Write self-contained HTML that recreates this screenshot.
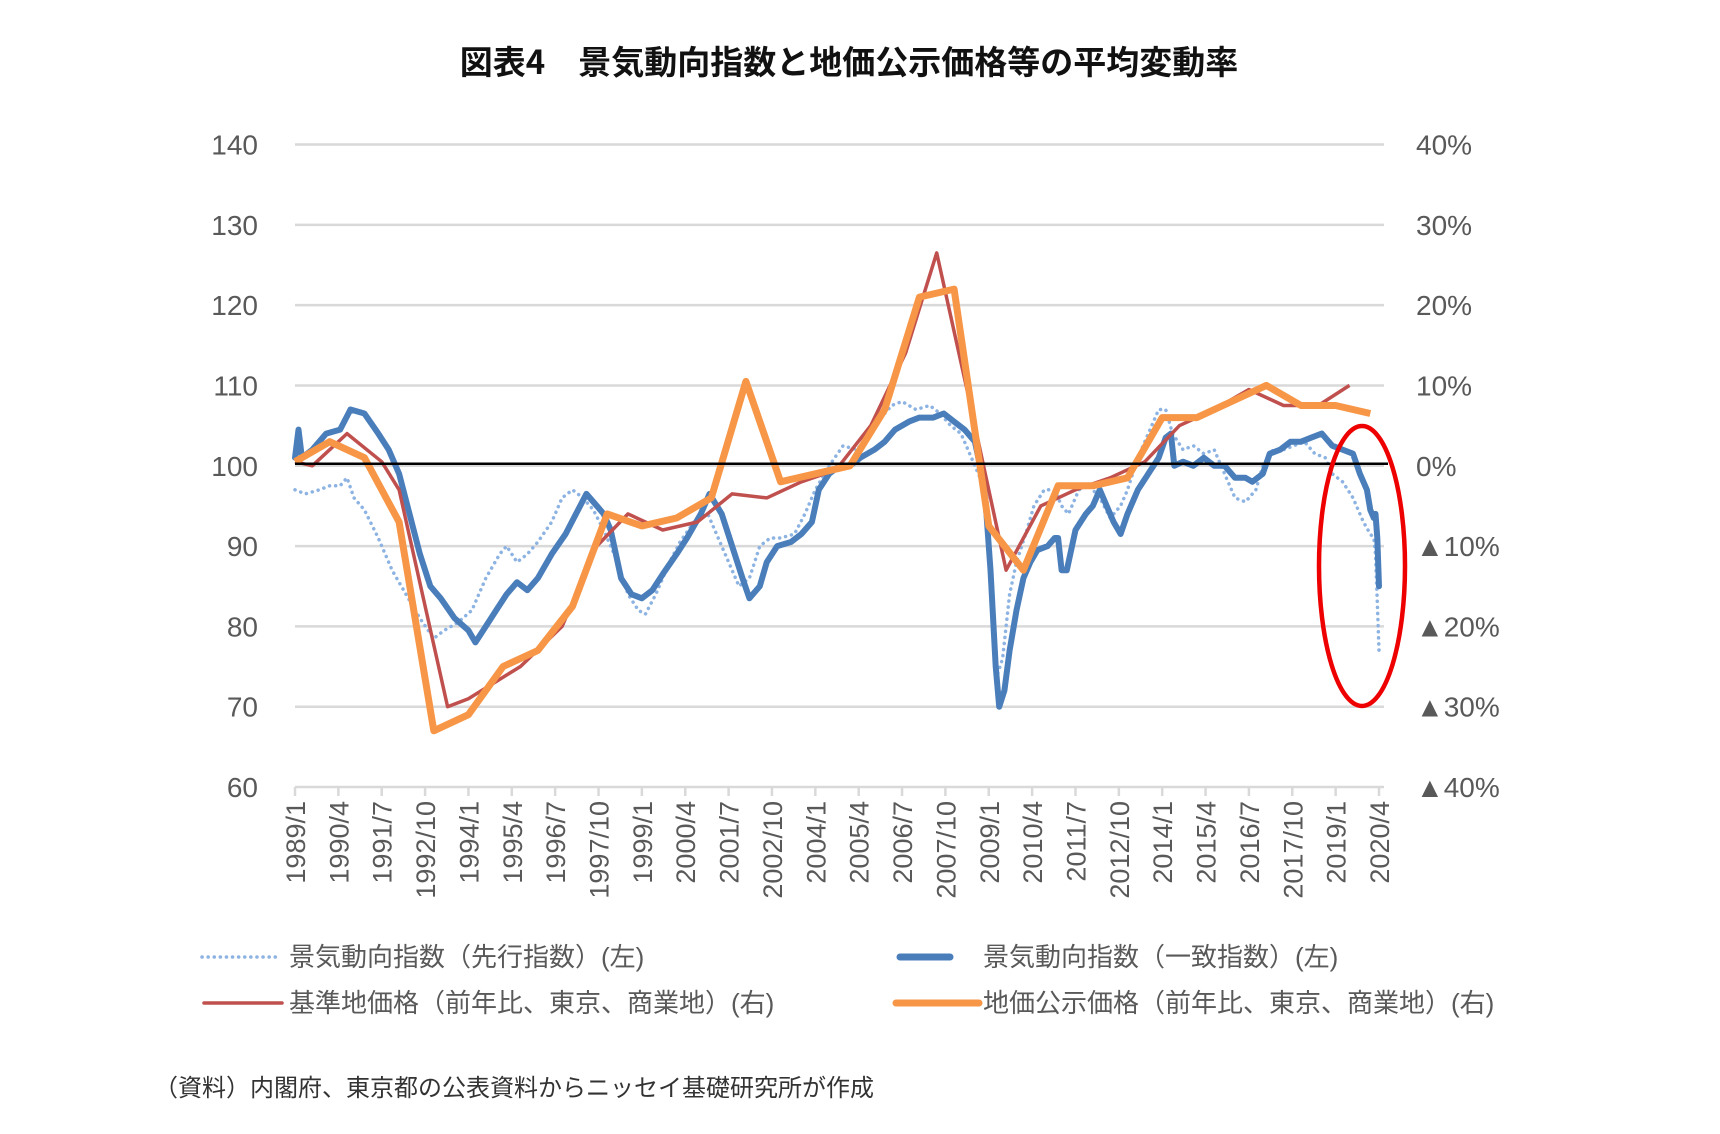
<!DOCTYPE html>
<html><head><meta charset="utf-8"><style>
html,body{margin:0;padding:0;background:#fff;}
body{width:1720px;height:1134px;overflow:hidden;position:relative;font-family:"Liberation Sans","Noto Sans CJK JP",sans-serif;}
.t{position:absolute;white-space:nowrap;}
</style></head><body>
<div class="t" style="left:0;width:1698px;text-align:center;top:36px;font-size:33px;font-weight:bold;color:#111;font-family:'Noto Sans CJK JP',sans-serif;">図表4　景気動向指数と地価公示価格等の平均変動率</div>
<svg id="chart" width="1720" height="1134" style="position:absolute;left:0;top:0"></svg>
<div class="t" style="left:154px;top:1068px;font-size:24px;color:#333;">（資料）内閣府、東京都の公表資料からニッセイ基礎研究所が作成</div>
<script>
const leftTicks=[60,70,80,90,100,110,120,130,140];
const rightTickLabels=['▲40%','▲30%','▲20%','▲10%','0%','10%','20%','30%','40%'];
const xTickLabels=['1989/1','1990/4','1991/7','1992/10','1994/1','1995/4','1996/7','1997/10','1999/1','2000/4','2001/7','2002/10','2004/1','2005/4','2006/7','2007/10','2009/1','2010/4','2011/7','2012/10','2014/1','2015/4','2016/7','2017/10','2019/1','2020/4'];
const coinT=[1989.0,1989.1,1989.2,1989.5,1989.9,1990.3,1990.6,1991.0,1991.4,1991.7,1992.0,1992.3,1992.6,1992.9,1993.2,1993.6,1994.0,1994.2,1994.5,1994.8,1995.1,1995.4,1995.7,1996.0,1996.4,1996.8,1997.1,1997.4,1997.7,1997.9,1998.1,1998.4,1998.7,1999.0,1999.3,1999.6,2000.0,2000.3,2000.7,2000.95,2001.3,2001.6,2001.9,2002.1,2002.4,2002.6,2002.9,2003.3,2003.6,2003.9,2004.1,2004.4,2004.7,2005.0,2005.3,2005.7,2006.0,2006.3,2006.7,2007.0,2007.4,2007.7,2008.0,2008.3,2008.6,2008.75,2008.9,2009.05,2009.2,2009.3,2009.45,2009.6,2009.8,2010.0,2010.2,2010.4,2010.7,2010.9,2011.0,2011.1,2011.25,2011.5,2011.8,2012.0,2012.2,2012.4,2012.6,2012.8,2013.0,2013.3,2013.6,2013.9,2014.1,2014.25,2014.35,2014.6,2014.9,2015.2,2015.5,2015.8,2016.1,2016.4,2016.6,2016.9,2017.1,2017.4,2017.7,2018.0,2018.3,2018.6,2018.9,2019.2,2019.5,2019.7,2019.9,2020.0,2020.1,2020.15,2020.2,2020.25];
const coinV=[101,104.5,101,102,104,104.5,107,106.5,104,102,99,94,89,85,83.5,81,79.5,78,80,82,84,85.5,84.5,86,89,91.5,94,96.5,95,94,92,86,84,83.5,84.5,86.5,89,91,94,96.5,94,90,86,83.5,85,88,90,90.5,91.5,93,97,99,100,100,101,102,103,104.5,105.5,106,106,106.5,105.5,104.5,103,100,96,87,75,70,72,77,82,86,88,89.5,90,91,91,87,87,92,94,95,97,95,93,91.5,94,97,99,101,103.5,104,100,100.5,100,101,100,100,98.5,98.5,98,99,101.5,102,103,103,103.5,104,102.5,102,101.5,99,97,94.5,93.5,94,91,85];
const leadT=[1989.0,1989.3,1989.7,1990.0,1990.3,1990.5,1990.7,1991.0,1991.4,1991.8,1992.2,1992.6,1993.0,1993.3,1993.7,1994.1,1994.5,1994.9,1995.1,1995.4,1995.7,1996.0,1996.4,1996.7,1997.0,1997.3,1997.6,1997.9,1998.3,1998.6,1998.9,1999.1,1999.4,1999.8,2000.1,2000.5,2000.9,2001.2,2001.5,2001.8,2002.1,2002.4,2002.7,2003.0,2003.4,2003.7,2004.0,2004.4,2004.8,2005.2,2005.6,2005.9,2006.2,2006.5,2006.9,2007.3,2007.6,2007.9,2008.2,2008.5,2008.8,2009.0,2009.1,2009.25,2009.4,2009.6,2009.8,2010.1,2010.3,2010.6,2010.9,2011.1,2011.3,2011.6,2011.9,2012.2,2012.5,2012.8,2013.0,2013.3,2013.6,2013.9,2014.1,2014.3,2014.6,2014.9,2015.2,2015.5,2015.8,2016.1,2016.4,2016.7,2016.9,2017.2,2017.5,2017.8,2018.1,2018.4,2018.7,2018.9,2019.2,2019.5,2019.8,2020.0,2020.1,2020.15,2020.2,2020.25];
const leadV=[97,96.5,97,97.5,97.5,98.5,96,94.5,91,87,84,81,78.5,79.5,80.5,82,86,89,90,88,89,90.5,93,96,97,96,94.5,92,88,84,82,81.5,84,88,90.5,93,94,91,88,85,86,90,91,91,91.5,94,97,100,102.5,102,104,106,107.5,108,107,107.5,106.5,105,104,101,98,91,85,74,76,84,88,92,95,97,97,95,94,97,97.5,96,93.5,95,97,101,104,107,107,104,102,102.5,101.5,102,99,96,95.5,97,100,102,102,102.5,103,101.5,101,99,98,96,93,91.5,91,89,83,77];
const redT=[1989.0,1989.5,1990.0,1990.5,1991.5,1992.0,1993.4,1994.0,1995.5,1996.7,1997.7,1998.6,1999.6,2000.6,2001.6,2002.6,2003.6,2004.6,2005.6,2006.6,2007.5,2008.5,2009.5,2010.5,2011.5,2012.5,2013.5,2014.5,2015.5,2016.5,2017.5,2018.5,2019.4];
const redV=[0.5,0,2,4,0.5,-3,-30,-29,-25,-20,-10,-6,-8,-7,-3.5,-4,-2,-0.5,5,14,26.5,7,-13,-5,-3,-1.5,0.5,5,7,9.5,7.5,7.5,10];
const orgT=[1989,1990,1991,1992,1993,1994,1995,1996,1997,1998,1999,2000,2001,2002,2003,2004,2005,2006,2007,2008,2009,2010,2011,2012,2013,2014,2015,2016,2017,2018,2019,2020];
const orgV=[0.5,3,1,-7,-33,-31,-25,-23,-17.5,-6,-7.5,-6.5,-4,10.5,-2,-1,0,7,21,22,-7.5,-13,-2.5,-2.5,-1.5,6,6,8,10,7.5,7.5,6.5];

const NS='http://www.w3.org/2000/svg';
const svg=document.getElementById('chart');
const X0=295,X1=1379,Y60=787,Y140=144.5;
function xs(t){return X0+(t-1989)*12*(X1-X0)/375;}
function yl(v){return Y60+(v-60)*(Y140-Y60)/80;}
function yr(p){return yl(100+p);}
function mk(tag,attrs){const e=document.createElementNS(NS,tag);for(const k in attrs)e.setAttribute(k,attrs[k]);svg.appendChild(e);return e;}
leftTicks.forEach((v,i)=>{
  const g=mk('line',{x1:X0,x2:1384,y1:yl(v),y2:yl(v),stroke:'#d9d9d9','stroke-width':2.5});
  
  
  const t=mk('text',{x:258,y:yl(v)+10,'text-anchor':'end','font-size':28,fill:'#595959','font-family':'Liberation Sans,sans-serif'});
  t.textContent=v;
  
  
  const r=mk('text',{x:1416,y:yl(v)+10,'text-anchor':'start','font-size':28,fill:'#595959','font-family':'Liberation Sans,"Noto Sans CJK JP",sans-serif'});
  r.textContent=rightTickLabels[i];
  
  
});
xTickLabels.forEach((lab,i)=>{
  const x=xs(1989+i*15/12);
  const tk=mk('line',{x1:x,x2:x,y1:Y60,y2:Y60+9,stroke:'#d9d9d9','stroke-width':2.5});
  
  
  const t=mk('text',{transform:`translate(${x+10},${Y60+14}) rotate(-90)`,'text-anchor':'end','font-size':27,fill:'#595959','font-family':'Liberation Sans,sans-serif'});
  t.textContent=lab;
  
  
});
function pts(T,V,f){return T.map((t,i)=>xs(t).toFixed(1)+','+f(V[i]).toFixed(1)).join(' ');}
const lead=mk('polyline',{points:pts(leadT,leadV,yl),fill:'none',stroke:'#8db3e2','stroke-width':3.5,'stroke-dasharray':'0.1 6','stroke-linecap':'round'});


const coin=mk('polyline',{points:pts(coinT,coinV,yl),fill:'none',stroke:'#4a7ebb','stroke-width':6,'stroke-linejoin':'round','stroke-linecap':'round'});


const red=mk('polyline',{points:pts(redT,redV,yr),fill:'none',stroke:'#c0504d','stroke-width':3.5,'stroke-linejoin':'round'});


const org=mk('polyline',{points:pts(orgT,orgV,yr),fill:'none',stroke:'#f79646','stroke-width':7,'stroke-linejoin':'round'});


const zero=mk('line',{x1:X0,x2:1388,y1:yl(100)-2,y2:yl(100)-2,stroke:'#000','stroke-width':2.5});


const ell=mk('ellipse',{cx:1362,cy:566,rx:43,ry:140,fill:'none',stroke:'#ee0000','stroke-width':4.5});


const leg=[
 {x1:202,x2:276,y:957,c:'#8db3e2',w:3.5,d:'0.1 6',tx:289,label:'景気動向指数（先行指数）(左)',n:'legend-leading'},
 {x1:900,x2:950,y:957,c:'#4a7ebb',w:7,d:'',tx:983,label:'景気動向指数（一致指数）(左)',n:'legend-coincident'},
 {x1:204,x2:282,y:1003,c:'#c0504d',w:3.5,d:'',tx:289,label:'基準地価格（前年比、東京、商業地）(右)',n:'legend-standard-land-price'},
 {x1:896,x2:979,y:1003,c:'#f79646',w:7,d:'',tx:983,label:'地価公示価格（前年比、東京、商業地）(右)',n:'legend-public-land-price'}
];
leg.forEach(l=>{
  const ln=mk('line',{x1:l.x1,x2:l.x2,y1:l.y,y2:l.y,stroke:l.c,'stroke-width':l.w,'stroke-linecap':'round'});
  if(l.d)ln.setAttribute('stroke-dasharray',l.d);
  
  
  const t=mk('text',{x:l.tx,y:l.y+9,'font-size':26,fill:'#595959','font-family':'Liberation Sans,"Noto Sans CJK JP",sans-serif'});
  t.textContent=l.label;
  
  
});
</script>
</body></html>
